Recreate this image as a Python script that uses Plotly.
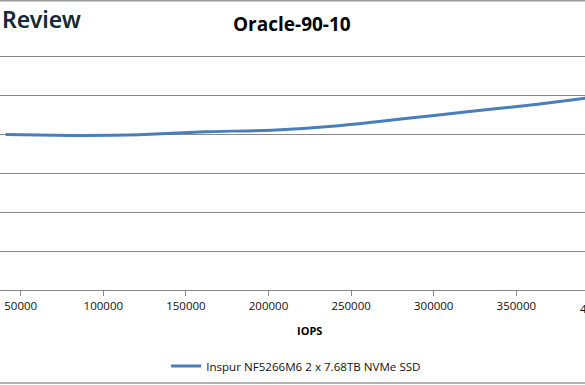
import plotly.graph_objects as go

# Data
iops = [40900, 81000, 121500, 161800, 202000, 242500, 283000, 323000, 363000, 403000]
latency_ms = [0.800, 0.795, 0.798, 0.814, 0.822, 0.845, 0.882, 0.919, 0.956, 0.998]
series_name = "Inspur NF5266M6 2 x 7.68TB NVMe SSD"
x_ticks = [50000, 100000, 150000, 200000, 250000, 300000, 350000, 400000]
chart_title = "Oracle-90-10"
x_title = "IOPS"

W, H = 585, 385
T, B = 47, 95
PH = H - T - B
FONT = "Open Sans"
GRID = "#878787"

fig = go.Figure()
fig.add_trace(go.Scatter(
    x=iops, y=latency_ms, mode="lines", name=series_name,
    line=dict(color="#4a7ebb", width=3, shape="spline", smoothing=0.5),
    showlegend=True,
))

fig.update_layout(
    width=W, height=H,
    margin=dict(l=0, r=0, t=T, b=B),
    paper_bgcolor="white", plot_bgcolor="white",
    font=dict(family=FONT, size=11, color="#111"),
    showlegend=True,
    legend=dict(
        orientation="h", x=0.284, xanchor="left", y=-(366 - 290) / PH, yanchor="middle",
        font=dict(family=FONT, size=11.6, color="#111"),
        bgcolor="rgba(0,0,0,0)",
    ),
    xaxis=dict(
        range=[37470, 391586],
        tickvals=x_ticks, ticktext=[str(v) for v in x_ticks],
        ticks="outside", ticklen=5, tickcolor=GRID, tickwidth=1,
        showline=True, linecolor=GRID, linewidth=1,
        showgrid=False, zeroline=False,
        tickfont=dict(family=FONT, size=11.5, color="#111"),
    ),
    yaxis=dict(
        range=[0, 1.25], dtick=0.2, tick0=0,
        showticklabels=False, showgrid=True, gridcolor=GRID, gridwidth=1,
        zeroline=False, showline=False, ticks="",
    ),
    annotations=[
        dict(text="<b>" + chart_title + "</b>", xref="paper", yref="paper",
             x=292 / W, y=1 + (T - 24) / PH, xanchor="center", yanchor="middle",
             showarrow=False, font=dict(family=FONT, size=19, color="#000")),
        dict(text="<b>" + x_title + "</b>", xref="paper", yref="paper",
             x=309.5 / W, y=-(330 - 290) / PH, xanchor="center", yanchor="middle",
             showarrow=False, font=dict(family=FONT, size=11, color="#000")),
        dict(text=str(x_ticks[-1]), xref="paper", yref="paper",
             x=599 / W, y=-(308 - 290) / PH, xanchor="center", yanchor="middle",
             showarrow=False, font=dict(family=FONT, size=11.5, color="#111")),
        dict(text="Review", xref="paper", yref="paper",
             x=0, y=1 + (T - 19) / PH, xanchor="left", yanchor="middle",
             showarrow=False, font=dict(family="Noto Sans", size=23, color="#14293a", weight=600)),
    ],
    shapes=[
        dict(type="line", xref="paper", yref="paper", x0=0, x1=1,
             y0=1 + (T - 0.75) / PH, y1=1 + (T - 0.75) / PH,
             line=dict(color="#999", width=1.5)),
        dict(type="line", xref="paper", yref="paper", x0=0, x1=1,
             y0=-(383 - 290) / PH, y1=-(383 - 290) / PH,
             line=dict(color="#999", width=1.5)),
    ],
)

fig.write_html("out.html", config={"displayModeBar": False},
               post_script="document.body.style.margin='0px';")
